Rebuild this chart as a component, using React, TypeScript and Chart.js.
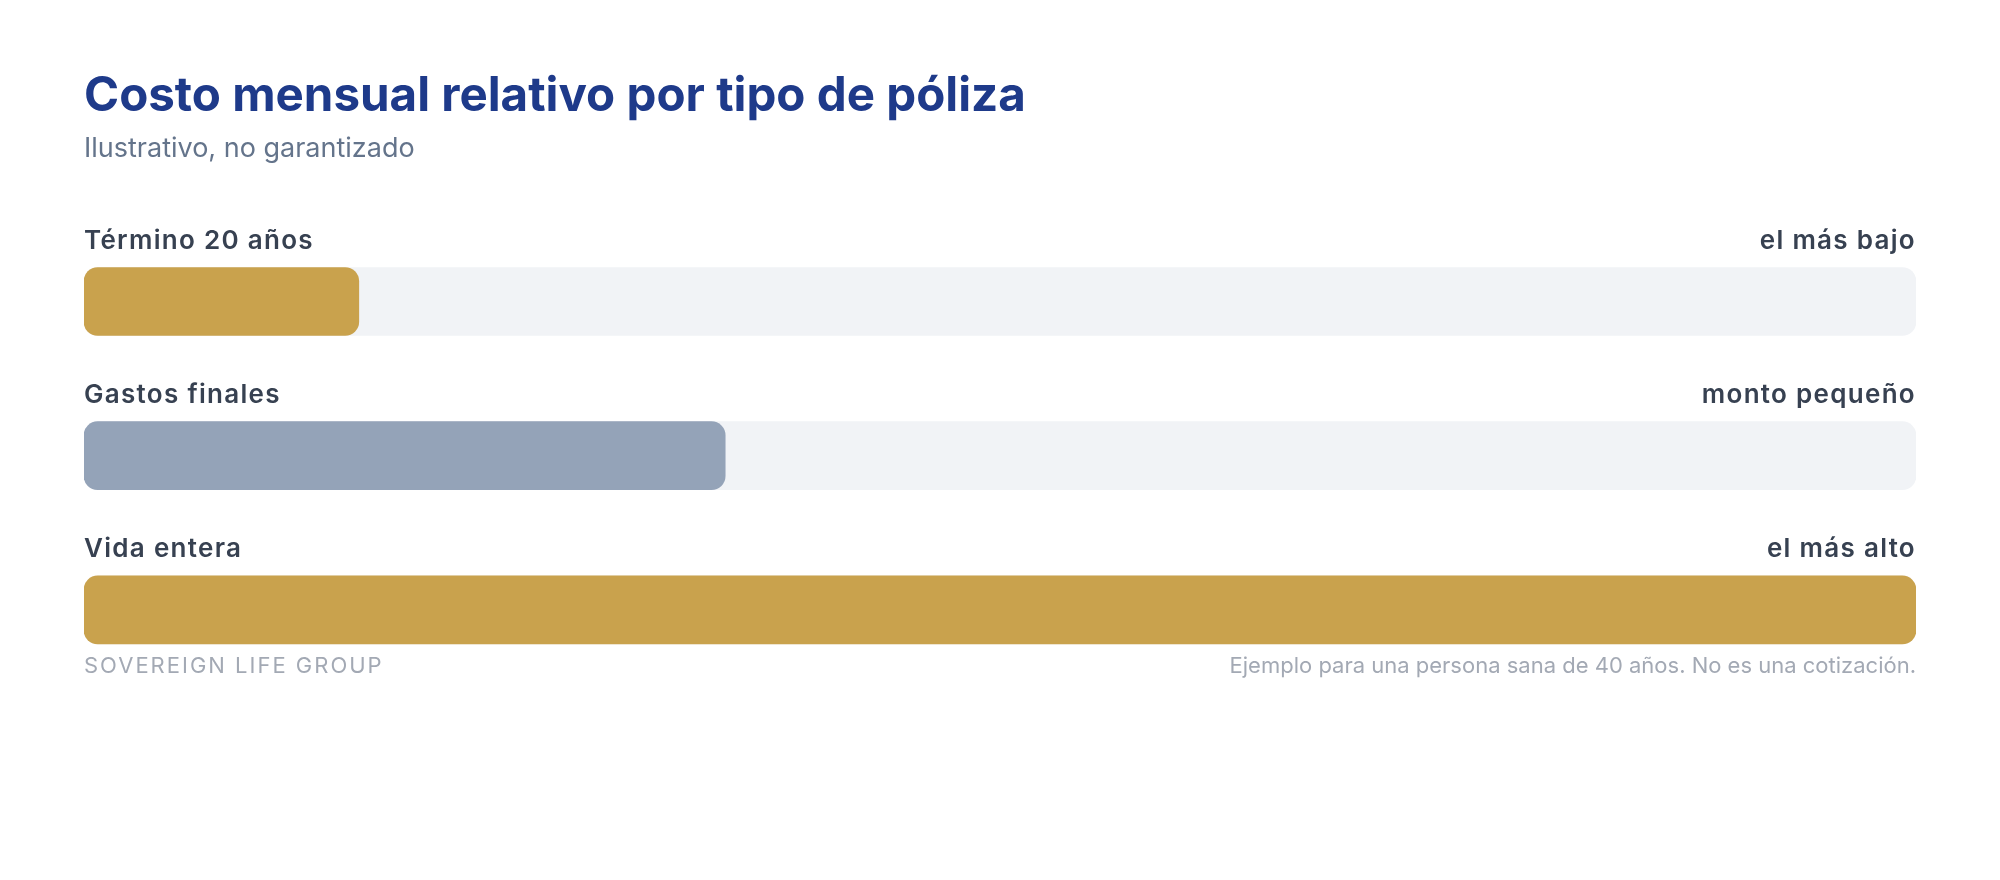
import { useEffect, useRef } from "react";
import { Chart, registerables } from "chart.js";

Chart.register(...registerables);

// Data
const policyTypes = ["Término 20 años", "Gastos finales", "Vida entera"];
const relativeCost = [15, 35, 100];
const costNotes = ["el más bajo", "monto pequeño", "el más alto"];
const trackMax = [100, 100, 100];

const GOLD = "#C9A24D";
const SLATE = "#94A3B8";
const TRACK = "#F1F3F6";
const FONT = "Inter, 'Noto Sans', sans-serif";

// category names + notes above each bar, and the footer line under the last one
const rowLabelsPlugin = {
  id: "rowLabels",
  afterDatasetsDraw(chart: Chart) {
    const { ctx, chartArea } = chart;
    const meta = chart.getDatasetMeta(1);
    ctx.save();
    ctx.textBaseline = "alphabetic";
    ctx.fillStyle = "#374151";
    ctx.font = `600 26px ${FONT}`;
    (ctx as any).letterSpacing = "1.3px";
    meta.data.forEach((bar: any, i: number) => {
      const top = bar.y - bar.height / 2;
      ctx.textAlign = "left";
      ctx.fillText(policyTypes[i], chartArea.left, top - 19);
      ctx.textAlign = "right";
      ctx.fillText(costNotes[i], chartArea.right, top - 19);
    });

    const last: any = meta.data[meta.data.length - 1];
    const footY = last.y + last.height / 2 + 29;
    ctx.fillStyle = "#A3A9B4";
    ctx.font = `400 22px ${FONT}`;
    ctx.textAlign = "left";
    (ctx as any).letterSpacing = "2px";
    ctx.fillText("SOVEREIGN LIFE GROUP", chartArea.left, footY);
    (ctx as any).letterSpacing = "0px";
    ctx.textAlign = "right";
    ctx.fillText(
      "Ejemplo para una persona sana de 40 años. No es una cotización.",
      chartArea.right,
      footY
    );
    ctx.restore();
  },
};

const PolicyCostChart = () => {
  const canvasRef = useRef<HTMLCanvasElement>(null);
  const chartRef = useRef<Chart | null>(null);

  useEffect(() => {
    if (!canvasRef.current) return;
    if (chartRef.current) chartRef.current.destroy();
    const ctx = canvasRef.current.getContext("2d");
    if (!ctx) return;

    chartRef.current = new Chart(ctx, {
      type: "bar",
      data: {
        labels: policyTypes,
        datasets: [
          {
            data: trackMax,
            backgroundColor: TRACK,
            barThickness: 68,
            borderRadius: 14,
            borderSkipped: false,
            grouped: false,
            order: 2,
          },
          {
            data: relativeCost,
            backgroundColor: [GOLD, SLATE, GOLD],
            barThickness: 68,
            borderRadius: 14,
            borderSkipped: false,
            grouped: false,
            order: 1,
          },
        ],
      },
      options: {
        indexAxis: "y",
        responsive: false,
        animation: false,
        layout: { padding: { top: 68, left: 84, right: 84, bottom: 193 } },
        plugins: {
          legend: { display: false },
          tooltip: { enabled: false },
          title: {
            display: true,
            text: "Costo mensual relativo por tipo de póliza",
            align: "start",
            color: "#1E3A8A",
            font: { family: FONT, size: 47.5, weight: "bold", lineHeight: 1.2 },
            padding: { top: 0, bottom: 8 },
          },
          subtitle: {
            display: true,
            text: "Ilustrativo, no garantizado",
            align: "start",
            color: "#64748B",
            font: { family: FONT, size: 27, weight: "normal", lineHeight: 1.2 },
            padding: { top: 0, bottom: 59 },
          },
        },
        scales: {
          x: { display: false, min: 0, max: 100 },
          y: { display: false },
        },
      },
      plugins: [rowLabelsPlugin],
    });

    return () => {
      if (chartRef.current) {
        chartRef.current.destroy();
        chartRef.current = null;
      }
    };
  }, []);

  return (
    <div
      style={{
        position: "absolute",
        left: 0,
        top: 0,
        width: 2000,
        height: 880,
        background: "#FFFFFF",
      }}
    >
      <canvas ref={canvasRef} width={2000} height={880} style={{ display: "block" }}></canvas>
    </div>
  );
};

export default function App() {
  return <PolicyCostChart />;
}
